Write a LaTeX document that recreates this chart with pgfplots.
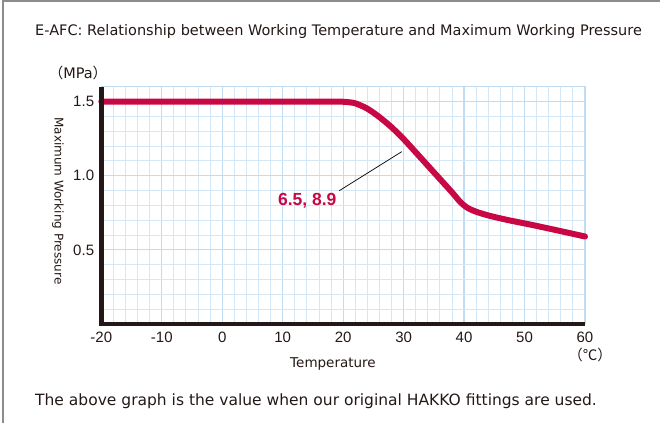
\documentclass[border=0pt]{standalone}
\usepackage{fontspec}
\setmainfont{Liberation Sans}
\newfontfamily\dv{DejaVu Sans}
\newfontfamily\cjk{Noto Sans CJK JP}
\usepackage{pgfplots}
\pgfplotsset{compat=1.18}
\definecolor{crim}{RGB}{200,8,68}
\definecolor{gridminor}{RGB}{212,231,247}
\definecolor{gridmajor}{RGB}{192,220,243}
\definecolor{axblack}{RGB}{35,24,21}
\definecolor{framegray}{RGB}{140,140,140}
\definecolor{txt}{RGB}{35,24,21}
\begin{document}
\begin{tikzpicture}[x=1pt,y=1pt]
\path[use as bounding box] (0,0) rectangle (660,423);
\draw[framegray, line width=2pt] (2.5,0) -- (2.5,421.8) -- (660,421.8);
\node[anchor=base west, inner sep=0pt, text=txt, font=\fontsize{14.5}{16}\selectfont\dv] at (35,387) {E-AFC: Relationship between Working Temperature and Maximum Working Pressure};
\node[anchor=base west, inner sep=0pt, text=txt, font=\fontsize{15.5}{18}\selectfont\dv] at (35,18) {The above graph is the value when our original HAKKO fittings are used.};
\begin{axis}[
  at={(101.3pt,99pt)}, anchor=south west,
  scale only axis, width=483.7pt, height=237.3pt,
  xmin=-20, xmax=60, ymin=0, ymax=1.6,
  xtick={-20,-10,0,10,20,30,40,50,60},
  xticklabels={{-20},{-10},{\raisebox{-3pt}{0}},{10},{20},{30},{40},{50},{60}},
  ytick={0.5,1.0,1.5},
  yticklabels={{0.5},{1.0},{1.5}},
  minor x tick num=4,
  minor ytick={0.1,0.2,0.3,0.4,0.6,0.7,0.8,0.9,1.1,1.2,1.3,1.4},
  major tick length=0pt, minor tick length=0pt,
  grid=both,
  major grid style={gridmajor, line width=1.2pt},
  minor grid style={gridminor, line width=0.9pt},
  axis line style={draw=none},
  tick label style={text=txt, font=\fontsize{15}{17}\selectfont},
  xticklabel style={anchor=north, inner sep=0pt, yshift=-8pt},
  yticklabel style={anchor=east, inner sep=0pt, xshift=-7pt},
  clip=false,
]
\draw[gridmajor, line width=1.2pt] (rel axis cs:0,1) -- (rel axis cs:1,1) -- (rel axis cs:1,0);
\addplot[crim, line width=6pt, smooth, tension=0.45, line cap=round] coordinates {
(-20,1.5) (16,1.5) (19,1.5) (20.5,1.497) (22,1.488) (24,1.452) (26,1.395) (28,1.327)
(30,1.247) (32,1.158) (34,1.068) (36,0.978) (38,0.888) (39.5,0.817) (40.7,0.78)
(42,0.757) (44,0.732) (47,0.703) (51,0.67) (55,0.635) (60,0.59)};
\draw[axblack, line width=4.5pt] (axis cs:-20,1.6) -- (axis cs:-20,0) -- (axis cs:60,0);
\draw[black, line width=0.7pt] (axis cs:19.37,0.899) -- (axis cs:29.69,1.162);
\node[anchor=base east, inner sep=0pt, text=crim, font=\fontsize{17.5}{19}\selectfont\bfseries] at (axis cs:18.93,0.796) {6.5, 8.9};
\end{axis}
\node[anchor=base, inner sep=0pt, text=txt, font=\fontsize{14.5}{16}\selectfont\dv] at (78,344) {{\cjk （}MPa{\cjk ）}};
\node[rotate=-90, inner sep=0pt, text=txt, font=\fontsize{12}{14}\selectfont\dv] at (58,222) {Maximum Working Pressure};
\node[anchor=base, inner sep=0pt, text=txt, font=\fontsize{13.5}{15}\selectfont\dv] at (333,56) {Temperature};
\node[anchor=base, inner sep=0pt, text=txt, font=\fontsize{14.5}{16}\selectfont\cjk] at (590,63) {（℃）};
\end{tikzpicture}
\end{document}
